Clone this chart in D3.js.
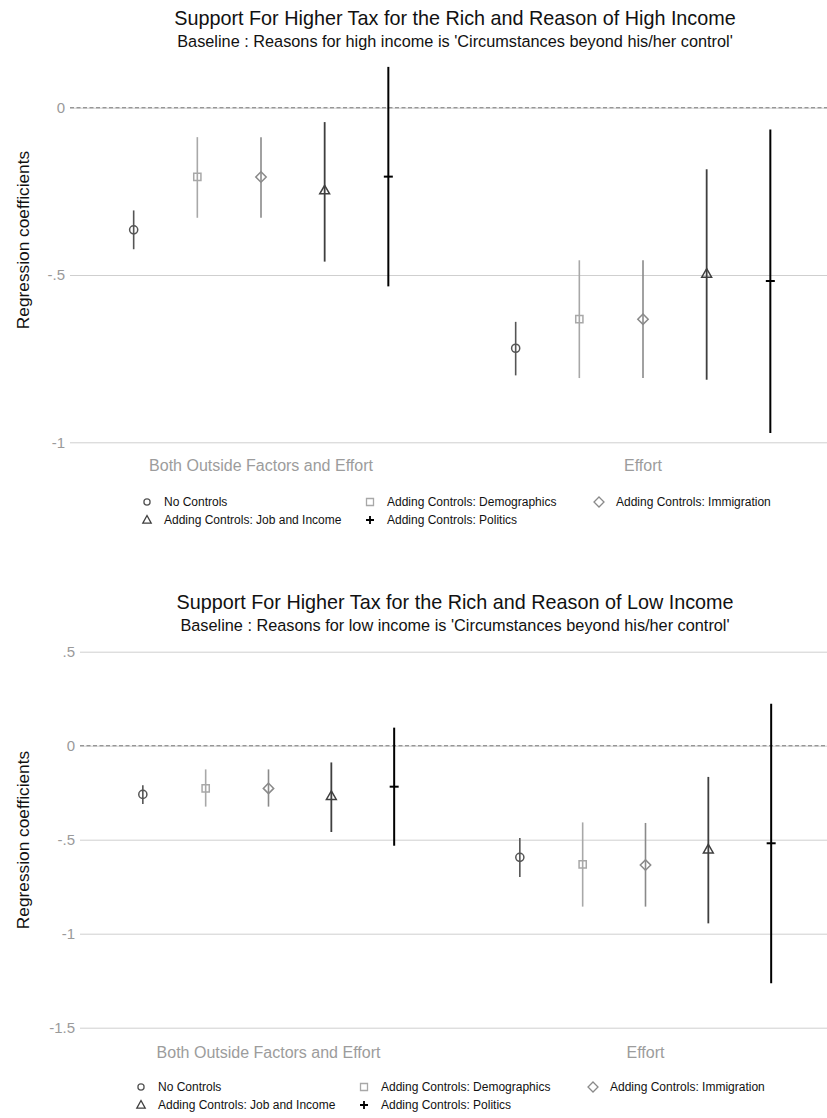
<!DOCTYPE html>
<html>
<head>
<meta charset="utf-8">
<script src="https://cdn.jsdelivr.net/npm/d3@7/dist/d3.min.js"></script>
<style>
  html, body { margin: 0; padding: 0; background: #fff; }
  svg { display: block; font-family: "Liberation Sans", Arial, Helvetica, sans-serif; }
</style>
</head>
<body>
<svg id="chart" width="827" height="1118"></svg>
<script>
// ---------- DATA ----------
const categories = ["Both Outside Factors and Effort", "Effort"];
const seriesNames = [
  "No Controls",
  "Adding Controls: Demographics",
  "Adding Controls: Immigration",
  "Adding Controls: Job and Income",
  "Adding Controls: Politics"
];
// Chart 1: reason of high income (rows = categories, cols = series)
const highCoef = [
  [-0.365, -0.207, -0.207, -0.249, -0.206],
  [-0.719, -0.632, -0.632, -0.498, -0.518]
];
const highLo = [
  [-0.423, -0.329, -0.329, -0.460, -0.534],
  [-0.800, -0.808, -0.808, -0.813, -0.972]
];
const highHi = [
  [-0.307, -0.088, -0.088, -0.043, 0.122],
  [-0.640, -0.456, -0.456, -0.184, -0.065]
];
// Chart 2: reason of low income
const lowCoef = [
  [-0.259, -0.227, -0.227, -0.271, -0.218],
  [-0.594, -0.631, -0.635, -0.555, -0.519]
];
const lowLo = [
  [-0.310, -0.324, -0.324, -0.459, -0.532],
  [-0.698, -0.856, -0.856, -0.945, -1.264]
];
const lowHi = [
  [-0.211, -0.126, -0.126, -0.089, 0.096],
  [-0.491, -0.408, -0.411, -0.166, 0.223]
];
const highTicks = [0, -0.5, -1];
const highTickLabels = ["0", "-.5", "-1"];
const lowTicks = [0.5, 0, -0.5, -1, -1.5];
const lowTickLabels = [".5", "0", "-.5", "-1", "-1.5"];

// ---------- STYLE ----------
const seriesColor = ["#555555", "#a8a8a8", "#8a8a8a", "#3f3f3f", "#000000"];
const seriesWidth = [1.6, 1.6, 1.6, 1.8, 2];
const symbolPaths = [
  d3.symbol(d3.symbolCircle, 52)(),
  "M-3.6,-3.6H3.6V3.6H-3.6Z",
  "M0,-5.2L5.2,0L0,5.2L-5.2,0Z",
  d3.symbol(d3.symbolTriangle, 42)(),
  "M-4.5,0H4.5"
];
const legendPaths = [
  d3.symbol(d3.symbolCircle, 30)(),
  "M-3.5,-3.5H3.5V3.5H-3.5Z",
  "M0,-5L5,0L0,5L-5,0Z",
  "M0,-4.5L4.2,3.2L-4.2,3.2Z",
  "M-4,0H4M0,-4V4"
];

const svg = d3.select("#chart");

function drawPanel(cfg) {
  const g = svg.append("g");
  const x = d3.scaleLinear().domain([0, 12]).range([cfg.left, 834]);
  const y = d3.scaleLinear().domain(cfg.domain).range(cfg.yRange);

  // titles
  g.append("text").attr("x", 455).attr("y", cfg.titleY)
    .attr("text-anchor", "middle").attr("font-size", 19.8).attr("fill", "#111")
    .text(cfg.title);
  g.append("text").attr("x", 455).attr("y", cfg.titleY + 22)
    .attr("text-anchor", "middle").attr("font-size", 16.3).attr("fill", "#111")
    .text(cfg.subtitle);

  // y axis via d3.axisLeft (styled as gridlines)
  const axis = d3.axisLeft(y)
    .tickValues(cfg.ticks)
    .tickFormat((d, i) => cfg.tickLabels[i])
    .tickSize(-(834 - cfg.left))
    .tickPadding(5);
  const ag = g.append("g").attr("transform", `translate(${cfg.left},0)`).call(axis);
  ag.select(".domain").remove();
  ag.selectAll(".tick line").attr("stroke", "#cfcfcf").attr("stroke-width", 1);
  ag.selectAll(".tick text").attr("fill", "#9a9a9a").attr("font-size", 15)
    .attr("font-family", "\"Liberation Sans\", Arial, sans-serif");

  // zero dashed line
  g.append("line")
    .attr("x1", cfg.left).attr("x2", 834)
    .attr("y1", y(0)).attr("y2", y(0))
    .attr("stroke", "#7a7a7a").attr("stroke-width", 1.1)
    .attr("stroke-dasharray", "4,2.5");

  // y axis title
  const ty = cfg.yTitleY;
  g.append("text")
    .attr("transform", `translate(29,${ty}) rotate(-90)`)
    .attr("text-anchor", "middle").attr("font-size", 17.3).attr("fill", "#111")
    .text("Regression coefficients");

  // category labels
  categories.forEach((c, ci) => {
    g.append("text").attr("x", x(ci * 6 + 3)).attr("y", cfg.catY)
      .attr("text-anchor", "middle").attr("font-size", 16).attr("fill", "#9c9c9c")
      .text(c);
  });

  // error bars and markers
  const pts = [];
  categories.forEach((c, ci) => {
    seriesNames.forEach((s, si) => {
      pts.push({ ci, si, pos: ci * 6 + si + 1,
        coef: cfg.coef[ci][si], lo: cfg.lo[ci][si], hi: cfg.hi[ci][si] });
    });
  });
  g.selectAll("line.err").data(pts).enter().append("line")
    .attr("class", "err")
    .attr("x1", d => x(d.pos)).attr("x2", d => x(d.pos))
    .attr("y1", d => y(d.lo)).attr("y2", d => y(d.hi))
    .attr("stroke", d => seriesColor[d.si])
    .attr("stroke-width", d => seriesWidth[d.si]);
  g.selectAll("path.mk").data(pts).enter().append("path")
    .attr("class", "mk")
    .attr("transform", d => `translate(${x(d.pos)},${y(d.coef)})`)
    .attr("d", d => symbolPaths[d.si])
    .attr("fill", "none")
    .attr("stroke", d => seriesColor[d.si])
    .attr("stroke-width", d => d.si === 4 ? 2 : 1.5);

  // legend
  const colX = [147, 370, 599];
  seriesNames.forEach((s, i) => {
    const col = i < 3 ? i : i - 3;
    const row = i < 3 ? 0 : 1;
    const lx = colX[col] + cfg.legendShift;
    const ly = cfg.legendY + row * 18;
    g.append("path").attr("transform", `translate(${lx},${ly})`)
      .attr("d", legendPaths[i]).attr("fill", "none")
      .attr("stroke", seriesColor[i])
      .attr("stroke-width", i === 4 ? 1.8 : 1.3);
    g.append("text").attr("x", lx + 17).attr("y", ly + 4)
      .attr("font-size", 12).attr("fill", "#111").text(s);
  });
}

drawPanel({
  title: "Support For Higher Tax for the Rich and Reason of High Income",
  subtitle: "Baseline : Reasons for high income is 'Circumstances beyond his/her control'",
  titleY: 25, left: 70,
  domain: [-1, 0], yRange: [442.3, 107.7],
  ticks: highTicks, tickLabels: highTickLabels,
  coef: highCoef, lo: highLo, hi: highHi,
  yTitleY: 240, catY: 471, legendY: 502, legendShift: 0
});
drawPanel({
  title: "Support For Higher Tax for the Rich and Reason of Low Income",
  subtitle: "Baseline : Reasons for low income is 'Circumstances beyond his/her control'",
  titleY: 609, left: 80,
  domain: [-1.5, 0.5], yRange: [1027.7, 651.7],
  ticks: lowTicks, tickLabels: lowTickLabels,
  coef: lowCoef, lo: lowLo, hi: lowHi,
  yTitleY: 840, catY: 1058, legendY: 1087, legendShift: -6
});
</script>
</body>
</html>
